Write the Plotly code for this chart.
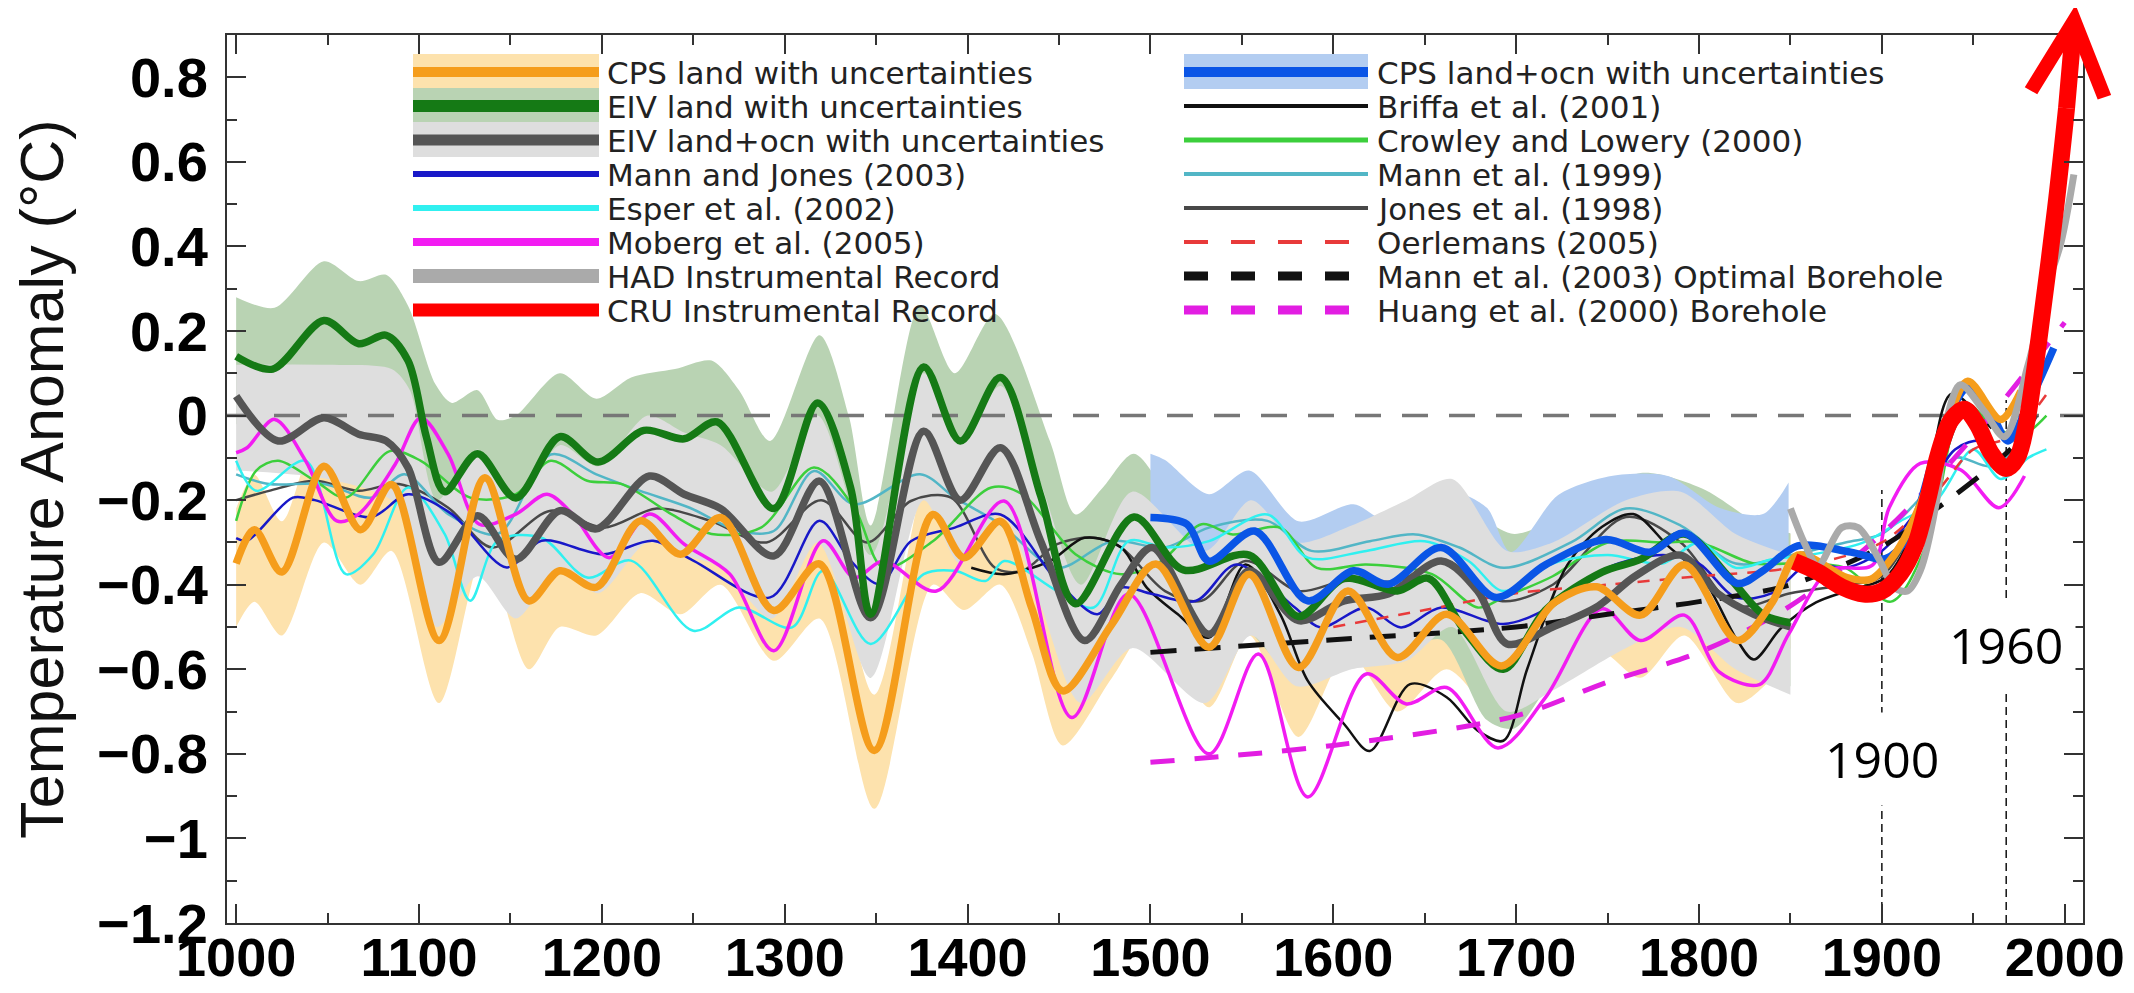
import plotly.graph_objects as go

# ---------------- canvas / frame ----------------
W, H = 2134, 993
M_L, M_R, M_T, M_B = 219, 59, 27, 78

x_range = [995, 2010]
y_range = [-1.2, 0.9]
x_tick_vals = [1000, 1100, 1200, 1300, 1400, 1500, 1600, 1700, 1800, 1900, 2000]
x_tick_text = ["1000", "1100", "1200", "1300", "1400", "1500", "1600", "1700", "1800", "1900", "2000"]
y_tick_vals = [0.8, 0.6, 0.4, 0.2, 0, -0.2, -0.4, -0.6, -0.8, -1.0, -1.2]
y_tick_text = ["0.8", "0.6", "0.4", "0.2", "0", "\u22120.2", "\u22120.4", "\u22120.6", "\u22120.8", "\u22121", "\u22121.2"]
zero_level = 0

# ---------------- uncertainty bands ----------------
eiv_land_band_yr = [1000, 1021, 1048, 1067, 1082, 1094, 1109, 1118, 1132, 1143, 1153, 1177, 1197, 1216, 1240, 1260,
                    1275, 1292, 1319, 1335, 1347, 1374, 1393, 1415, 1445, 1459, 1474, 1491, 1520, 1545, 1581, 1611,
                    1635, 1659, 1684, 1699, 1728, 1768, 1802, 1835, 1850]
eiv_land_band_up = [0.28, 0.255, 0.365, 0.318, 0.333, 0.26, 0.074, 0.03, 0.06, -0.01, 0.0, 0.1, 0.04, 0.09, 0.11, 0.13,
                    0.06, -0.06, 0.19, 0.0, -0.26, 0.26, 0.1, 0.24, -0.06, -0.234, -0.17, -0.09, -0.234, -0.186, -0.28,
                    -0.257, -0.27, -0.17, -0.25, -0.28, -0.233, -0.136, -0.173, -0.263, -0.278]
eiv_land_band_lo = [-0.02, -0.05, 0.08, 0.02, 0.04, -0.03, -0.27, -0.33, -0.24, -0.3, -0.34, -0.2, -0.26, -0.2, -0.2,
                    -0.17, -0.23, -0.36, -0.12, -0.3, -0.62, -0.04, -0.2, -0.06, -0.4, -0.6, -0.5, -0.4, -0.52, -0.48,
                    -0.62, -0.54, -0.56, -0.53, -0.72, -0.74, -0.58, -0.49, -0.47, -0.62, -0.64]

eiv_ocn_band_yr = [1000, 1050, 1085, 1095, 1110, 1132, 1153, 1177, 1198, 1225, 1245, 1265, 1293, 1318, 1347, 1376,
                   1396, 1418, 1440, 1462, 1490, 1530, 1555, 1580, 1610, 1640, 1665, 1695, 1720, 1760, 1790, 1820, 1850]
eiv_ocn_band_up = [0.12, 0.12, 0.11, 0.06, -0.2, -0.08, -0.2, -0.07, -0.12, 0.0, -0.04, -0.07, -0.18, 0.0, -0.33, 0.1,
                   -0.06, 0.07, -0.16, -0.4, -0.18, -0.32, -0.2, -0.3, -0.26, -0.2, -0.15, -0.32, -0.3, -0.2, -0.18,
                   -0.28, -0.33]
eiv_ocn_band_lo = [-0.13, -0.15, -0.2, -0.28, -0.5, -0.38, -0.48, -0.36, -0.42, -0.3, -0.33, -0.36, -0.48, -0.3, -0.62,
                   -0.2, -0.35, -0.23, -0.45, -0.68, -0.55, -0.68, -0.52, -0.64, -0.6, -0.58, -0.5, -0.7, -0.65, -0.55,
                   -0.5, -0.6, -0.66]

cps_land_band_yr = [1000, 1010, 1025, 1048, 1068, 1085, 1111, 1136, 1160, 1177, 1197, 1221, 1243, 1265, 1294, 1319,
                    1349, 1381, 1398, 1418, 1435, 1452, 1479, 1503, 1532, 1554, 1581, 1608, 1635, 1662, 1693, 1721,
                    1744, 1768, 1792, 1821, 1840, 1850]
cps_land_band_up = [-0.22, -0.14, -0.25, 0.0, -0.15, -0.05, -0.4, -0.03, -0.31, -0.24, -0.28, -0.13, -0.2, -0.12, -0.34,
                    -0.23, -0.66, -0.1, -0.22, -0.13, -0.33, -0.52, -0.37, -0.23, -0.42, -0.25, -0.46, -0.3, -0.45,
                    -0.35, -0.46, -0.32, -0.28, -0.35, -0.23, -0.41, -0.33, -0.28]
cps_land_band_lo = [-0.5, -0.44, -0.52, -0.3, -0.4, -0.32, -0.68, -0.32, -0.6, -0.5, -0.52, -0.42, -0.47, -0.4, -0.58,
                    -0.48, -0.93, -0.4, -0.46, -0.4, -0.56, -0.78, -0.62, -0.48, -0.69, -0.52, -0.76, -0.56, -0.7, -0.6,
                    -0.72, -0.6, -0.55, -0.62, -0.52, -0.68, -0.62, -0.55]

cps_ocn_band_yr = [1500, 1508, 1532, 1554, 1581, 1611, 1630, 1664, 1684, 1697, 1723, 1752, 1783, 1811, 1835, 1849]
cps_ocn_band_up = [-0.09, -0.105, -0.186, -0.13, -0.25, -0.21, -0.25, -0.18, -0.218, -0.323, -0.188, -0.143, -0.143,
                   -0.218, -0.233, -0.158]
cps_ocn_band_lo = [-0.4, -0.42, -0.5, -0.43, -0.6, -0.52, -0.55, -0.46, -0.58, -0.6, -0.5, -0.45, -0.46, -0.54, -0.52,
                   -0.46]

# ---------------- reconstructions ----------------
cps_land_yr = [1000, 1010, 1025, 1048, 1068, 1085, 1111, 1136, 1160, 1177, 1197, 1221, 1243, 1265, 1294, 1319, 1349,
               1381, 1398, 1418, 1435, 1452, 1479, 1503, 1532, 1554, 1581, 1608, 1635, 1662, 1692, 1721, 1744, 1768,
               1792, 1821, 1840, 1854, 1881, 1894, 1907, 1921, 1936, 1947, 1965, 1976]
cps_land_val = [-0.35, -0.27, -0.37, -0.12, -0.27, -0.163, -0.532, -0.147, -0.438, -0.367, -0.406, -0.249, -0.328,
                -0.241, -0.461, -0.351, -0.792, -0.234, -0.336, -0.25, -0.454, -0.651, -0.493, -0.351, -0.548, -0.375,
                -0.596, -0.415, -0.572, -0.47, -0.592, -0.442, -0.405, -0.472, -0.353, -0.532, -0.442, -0.33, -0.383,
                -0.387, -0.328, -0.21, -0.013, 0.081, -0.009, 0.058]

eiv_land_yr = [1000, 1020, 1048, 1067, 1082, 1094, 1104, 1114, 1132, 1153, 1177, 1198, 1223, 1245, 1263, 1294, 1318,
               1336, 1347, 1376, 1396, 1418, 1440, 1459, 1491, 1518, 1554, 1581, 1606, 1635, 1652, 1672, 1693, 1716,
               1747, 1768, 1792, 1816, 1835, 1850]
eiv_land_val = [0.14, 0.11, 0.225, 0.17, 0.19, 0.13, -0.05, -0.18, -0.09, -0.195, -0.05, -0.11, -0.035, -0.055,
                -0.015, -0.22, 0.03, -0.17, -0.47, 0.115, -0.06, 0.09, -0.19, -0.445, -0.24, -0.365, -0.33, -0.475,
                -0.385, -0.415, -0.385, -0.51, -0.6, -0.46, -0.37, -0.34, -0.28, -0.38, -0.47, -0.49]

eiv_ocn_yr = [1000, 1023, 1048, 1067, 1082, 1094, 1111, 1132, 1153, 1177, 1197, 1226, 1245, 1265, 1294, 1319, 1347,
              1376, 1396, 1418, 1440, 1464, 1484, 1501, 1532, 1554, 1581, 1606, 1630, 1659, 1679, 1695, 1720, 1745,
              1765, 1790, 1810, 1830, 1850]
eiv_ocn_val = [0.046, -0.06, -0.005, -0.044, -0.06, -0.123, -0.347, -0.237, -0.34, -0.225, -0.268, -0.143, -0.186,
               -0.22, -0.332, -0.155, -0.478, -0.037, -0.2, -0.076, -0.297, -0.532, -0.399, -0.312, -0.517, -0.367,
               -0.485, -0.438, -0.422, -0.344, -0.415, -0.54, -0.5, -0.45, -0.38, -0.33, -0.42, -0.47, -0.5]

cps_ocn_yr = [1500, 1520, 1532, 1557, 1586, 1611, 1630, 1659, 1689, 1716, 1749, 1773, 1792, 1821, 1835, 1854, 1883,
              1902, 1914, 1932, 1947, 1960, 1969, 1980, 1994]
cps_ocn_val = [-0.241, -0.257, -0.344, -0.273, -0.438, -0.367, -0.399, -0.312, -0.43, -0.353, -0.293, -0.323, -0.278,
               -0.397, -0.367, -0.308, -0.323, -0.338, -0.289, -0.052, 0.066, 0.003, -0.06, 0.026, 0.16]

mann_jones_yr = [1000, 1006, 1031, 1043, 1074, 1094, 1118, 1148, 1167, 1201, 1228, 1250, 1292, 1319, 1336, 1352, 1369,
                 1393, 1418, 1449, 1471, 1484, 1501, 1525, 1547, 1579, 1593, 1618, 1637, 1659, 1693, 1720, 1750, 1780,
                 1800, 1820, 1840, 1860, 1880, 1900, 1920, 1940, 1955, 1970, 1980]
mann_jones_val = [-0.29, -0.296, -0.194, -0.2, -0.24, -0.186, -0.233, -0.359, -0.296, -0.328, -0.296, -0.343, -0.43,
                  -0.249, -0.343, -0.399, -0.297, -0.265, -0.234, -0.391, -0.47, -0.407, -0.422, -0.438, -0.352,
                  -0.454, -0.501, -0.454, -0.501, -0.454, -0.493, -0.45, -0.36, -0.33, -0.35, -0.43, -0.42, -0.35,
                  -0.36, -0.32, -0.22, -0.08, -0.06, -0.12, -0.05]

esper_yr = [1000, 1011, 1038, 1060, 1075, 1094, 1114, 1128, 1143, 1167, 1192, 1216, 1250, 1275, 1304, 1321, 1347, 1376,
            1393, 1410, 1420, 1449, 1469, 1488, 1508, 1532, 1564, 1586, 1618, 1650, 1674, 1693, 1720, 1750, 1780, 1800,
            1820, 1840, 1860, 1890, 1910, 1930, 1950, 1965, 1980, 1990]
esper_val = [-0.107, -0.178, -0.107, -0.375, -0.328, -0.17, -0.28, -0.438, -0.296, -0.289, -0.383, -0.343, -0.509,
             -0.454, -0.501, -0.367, -0.54, -0.375, -0.367, -0.391, -0.344, -0.415, -0.454, -0.297, -0.312, -0.297,
             -0.234, -0.336, -0.32, -0.297, -0.344, -0.415, -0.35, -0.33, -0.35, -0.3, -0.36, -0.34, -0.33, -0.3,
             -0.25, -0.2, -0.08, -0.15, -0.1, -0.08]

moberg_yr = [1000, 1006, 1021, 1038, 1055, 1067, 1087, 1101, 1116, 1133, 1153, 1170, 1184, 1204, 1226, 1245, 1270,
             1294, 1321, 1338, 1354, 1383, 1420, 1457, 1488, 1532, 1559, 1586, 1618, 1640, 1662, 1690, 1716, 1747,
             1768, 1792, 1811, 1833, 1849, 1871, 1895, 1904, 1921, 1943, 1964, 1978]
moberg_val = [-0.088, -0.076, -0.009, -0.107, -0.249, -0.233, -0.115, -0.005, -0.092, -0.257, -0.233, -0.186, -0.233,
              -0.336, -0.233, -0.304, -0.375, -0.556, -0.296, -0.383, -0.344, -0.415, -0.202, -0.714, -0.422, -0.8,
              -0.564, -0.902, -0.611, -0.682, -0.643, -0.786, -0.667, -0.457, -0.532, -0.472, -0.606, -0.636, -0.517,
              -0.367, -0.353, -0.218, -0.113, -0.128, -0.218, -0.143]

briffa_yr = [1402, 1420, 1445, 1464, 1484, 1498, 1515, 1532, 1552, 1571, 1586, 1606, 1620, 1642, 1662, 1679, 1693,
             1706, 1728, 1747, 1764, 1783, 1802, 1821, 1830, 1845, 1864, 1883, 1902, 1921, 1938, 1955, 1960]
briffa_val = [-0.36, -0.375, -0.344, -0.289, -0.312, -0.407, -0.47, -0.525, -0.352, -0.47, -0.627, -0.73, -0.793,
              -0.635, -0.666, -0.745, -0.769, -0.6, -0.353, -0.263, -0.233, -0.308, -0.383, -0.532, -0.577, -0.502,
              -0.442, -0.412, -0.383, -0.233, 0.051, -0.009, -0.03]

crowley_yr = [1000, 1011, 1023, 1043, 1060, 1084, 1101, 1128, 1153, 1172, 1192, 1211, 1238, 1260, 1287, 1316, 1338,
              1354, 1381, 1413, 1430, 1459, 1484, 1506, 1528, 1545, 1571, 1591, 1618, 1654, 1679, 1693, 1720, 1750,
              1780, 1800, 1830, 1850, 1880, 1905, 1925, 1945, 1960, 1975, 1990]
crowley_val = [-0.249, -0.13, -0.107, -0.154, -0.194, -0.084, -0.107, -0.194, -0.186, -0.107, -0.154, -0.162, -0.233,
               -0.28, -0.265, -0.123, -0.218, -0.36, -0.297, -0.17, -0.186, -0.328, -0.375, -0.344, -0.257, -0.281,
               -0.265, -0.36, -0.352, -0.375, -0.454, -0.43, -0.38, -0.3, -0.3, -0.3, -0.35, -0.35, -0.36, -0.44,
               -0.3, 0.03, -0.02, -0.05, 0.0]

mann99_yr = [1000, 1018, 1048, 1074, 1092, 1116, 1143, 1172, 1197, 1221, 1248, 1275, 1294, 1316, 1338, 1374, 1393,
             1418, 1449, 1479, 1508, 1532, 1564, 1588, 1620, 1645, 1669, 1693, 1730, 1760, 1790, 1820, 1850, 1880,
             1900, 1920, 1940, 1960, 1980]
mann99_val = [-0.139, -0.162, -0.162, -0.194, -0.139, -0.233, -0.28, -0.092, -0.139, -0.178, -0.218, -0.273, -0.273,
              -0.131, -0.21, -0.139, -0.194, -0.257, -0.36, -0.297, -0.312, -0.265, -0.249, -0.32, -0.297, -0.281,
              -0.312, -0.36, -0.3, -0.22, -0.26, -0.35, -0.33, -0.3, -0.28, -0.2, -0.1, -0.12, -0.05]

jones98_yr = [1000, 1018, 1043, 1067, 1089, 1116, 1140, 1172, 1201, 1230, 1260, 1290, 1320, 1345, 1369, 1391, 1415,
              1430, 1449, 1469, 1484, 1508, 1528, 1552, 1581, 1606, 1635, 1662, 1691, 1720, 1760, 1790, 1820, 1850,
              1880, 1900, 1930, 1945, 1965, 1985]
jones98_val = [-0.2, -0.178, -0.154, -0.178, -0.162, -0.218, -0.312, -0.225, -0.265, -0.22, -0.25, -0.3, -0.2, -0.3,
               -0.202, -0.194, -0.36, -0.367, -0.304, -0.289, -0.312, -0.415, -0.438, -0.344, -0.415, -0.391, -0.391,
               -0.344, -0.438, -0.4, -0.24, -0.3, -0.45, -0.42, -0.4, -0.38, -0.15, 0.0, -0.1, 0.0]

oerlemans_yr = [1600, 1650, 1700, 1750, 1800, 1850, 1900, 1930, 1950, 1970, 1990]
oerlemans_val = [-0.5, -0.46, -0.42, -0.4, -0.38, -0.36, -0.3, -0.18, -0.08, -0.05, 0.05]

mann03_bh_yr = [1500, 1600, 1700, 1750, 1800, 1850, 1900, 1930, 1960, 1980]
mann03_bh_val = [-0.56, -0.53, -0.5, -0.47, -0.44, -0.4, -0.31, -0.22, -0.12, -0.04]

huang_bh_yr = [1500, 1600, 1700, 1750, 1800, 1850, 1900, 1950, 2000]
huang_bh_val = [-0.82, -0.78, -0.71, -0.63, -0.56, -0.45, -0.28, -0.05, 0.22]

had_yr = [1850, 1858, 1865, 1878, 1887, 1898, 1907, 1914, 1921, 1930, 1936, 1943, 1956, 1967, 1980, 1990, 1998, 2005]
had_val = [-0.22, -0.305, -0.355, -0.265, -0.265, -0.336, -0.407, -0.415, -0.367, -0.2, 0.0, 0.073, 0.01, -0.05, 0.12,
           0.3, 0.41, 0.57]

cru_yr = [1852, 1865, 1878, 1890, 1900, 1910, 1918, 1925, 1931, 1938, 1945, 1952, 1960, 1968, 1974, 1979, 1983, 1986,
          1995, 2001]
cru_val = [-0.345, -0.37, -0.405, -0.422, -0.415, -0.375, -0.31, -0.2, -0.09, -0.01, 0.015, -0.02, -0.09, -0.125, -0.1,
           -0.02, 0.09, 0.184, 0.49, 0.727]
arrow_tip_yr, arrow_tip_val = 2006, 0.975

marker_years = [1900, 1968]
marker_tops = [-0.176, 0.037]
marker_labels = ["1900", "1960"]
marker_label_vals = [-0.812, -0.543]

# ---------------- colours ----------------
C_ORANGE, C_ORANGE_BAND = "#f59d1c", "#fde2ad"
C_GREEN, C_GREEN_BAND = "#157a15", "#b9d3b3"
C_DGRAY, C_GRAY_BAND = "#555555", "#dedede"
C_BLUE, C_BLUE_BAND = "#0a55e6", "#b3cdf1"
C_MJ, C_ESPER, C_MOBERG = "#1818c8", "#30f0f0", "#f21cf2"
C_HAD, C_CRU = "#aaaaaa", "#ff0000"
C_BRIFFA, C_CROWLEY, C_MANN99, C_JONES98 = "#111111", "#3ccf3c", "#52b6c6", "#484848"
C_OERL, C_MANN03, C_HUANG = "#e83a3a", "#111111", "#e21ee2"

fig = go.Figure()


def add_band(xs, lo, up, color):
    fig.add_trace(go.Scatter(x=xs, y=lo, mode="lines", line=dict(width=0, shape="spline", smoothing=0.8),
                             hoverinfo="skip", showlegend=False))
    fig.add_trace(go.Scatter(x=xs, y=up, mode="lines", line=dict(width=0, shape="spline", smoothing=0.8),
                             fill="tonexty", fillcolor=color, hoverinfo="skip", showlegend=False))


def add_line(xs, ys, color, width, name, dash=None, smoothing=0.9):
    fig.add_trace(go.Scatter(x=xs, y=ys, mode="lines", name=name,
                             line=dict(color=color, width=width, shape="spline", smoothing=smoothing, dash=dash),
                             showlegend=False))


add_band(cps_land_band_yr, cps_land_band_lo, cps_land_band_up, C_ORANGE_BAND)
add_band(eiv_land_band_yr, eiv_land_band_lo, eiv_land_band_up, C_GREEN_BAND)
add_band(cps_ocn_band_yr, cps_ocn_band_lo, cps_ocn_band_up, C_BLUE_BAND)
add_band(eiv_ocn_band_yr, eiv_ocn_band_lo, eiv_ocn_band_up, C_GRAY_BAND)

# zero reference line (above the bands, below the curves)
fig.add_trace(go.Scatter(x=x_range, y=[zero_level, zero_level], mode="lines",
                         line=dict(color="#777777", width=3.5, dash="26px,21px"), hoverinfo="skip", showlegend=False))

add_line(jones98_yr, jones98_val, C_JONES98, 2.5, "Jones et al. (1998)")
add_line(mann99_yr, mann99_val, C_MANN99, 2.5, "Mann et al. (1999)")
add_line(crowley_yr, crowley_val, C_CROWLEY, 2.5, "Crowley and Lowery (2000)")
add_line(briffa_yr, briffa_val, C_BRIFFA, 2.5, "Briffa et al. (2001)")
add_line(esper_yr, esper_val, C_ESPER, 2.5, "Esper et al. (2002)")
add_line(mann_jones_yr, mann_jones_val, C_MJ, 2.5, "Mann and Jones (2003)")
add_line(moberg_yr, moberg_val, C_MOBERG, 3.5, "Moberg et al. (2005)")
add_line(oerlemans_yr, oerlemans_val, C_OERL, 2.5, "Oerlemans (2005)", dash="12px,10px")
add_line(mann03_bh_yr, mann03_bh_val, C_MANN03, 5, "Mann et al. (2003) Optimal Borehole", dash="26px,18px")
add_line(huang_bh_yr, huang_bh_val, C_HUANG, 5, "Huang et al. (2000) Borehole", dash="24px,20px")
add_line(eiv_ocn_yr, eiv_ocn_val, C_DGRAY, 7.5, "EIV land+ocn with uncertainties")
add_line(eiv_land_yr, eiv_land_val, C_GREEN, 7.5, "EIV land with uncertainties")
add_line(cps_ocn_yr, cps_ocn_val, C_BLUE, 7.5, "CPS land+ocn with uncertainties")
add_line(cps_land_yr, cps_land_val, C_ORANGE, 7.5, "CPS land with uncertainties")
add_line(had_yr, had_val, C_HAD, 7, "HAD Instrumental Record")
add_line(cru_yr, cru_val, C_CRU, 17, "CRU Instrumental Record", smoothing=1.0)

# ---------------- shapes & annotations ----------------
PW = W - M_L - M_R
PH = H - M_T - M_B


def px(xp):
    return (xp - M_L) / PW


def py(yp):
    return (H - M_B - yp) / PH


shapes = []
annotations = []

for yr, top in zip(marker_years, marker_tops):
    shapes.append(dict(type="line", xref="x", yref="y", x0=yr, x1=yr, y0=y_range[0], y1=top, layer="below",
                       line=dict(color="#111111", width=1.5, dash="8px,5px")))
for yr, lab, v in zip(marker_years, marker_labels, marker_label_vals):
    annotations.append(dict(x=yr, y=v, xref="x", yref="y", text=lab, showarrow=False, bgcolor="white",
                            borderpad=12, font=dict(family="Open Sans, Noto Sans, sans-serif", size=50,
                                                    color="black")))

# red arrow head continuing the CRU overlay beyond the frame
annotations.append(dict(x=cru_yr[-1], y=cru_val[-1], xref="x", yref="y", ax=arrow_tip_yr, ay=arrow_tip_val,
                        axref="x", ayref="y", text="", showarrow=True, arrowside="start", startarrowhead=5,
                        startarrowsize=0.85, arrowwidth=17, arrowcolor=C_CRU, font=dict(size=1)))

# legend (two columns, drawn in the style of the original figure)
legend_col1 = [
    ("CPS land with uncertainties", C_ORANGE, 10, None, C_ORANGE_BAND),
    ("EIV land with uncertainties", C_GREEN, 12, None, C_GREEN_BAND),
    ("EIV land+ocn with uncertainties", C_DGRAY, 11, None, C_GRAY_BAND),
    ("Mann and Jones (2003)", C_MJ, 6, None, None),
    ("Esper et al. (2002)", C_ESPER, 6, None, None),
    ("Moberg et al. (2005)", C_MOBERG, 8, None, None),
    ("HAD Instrumental Record", C_HAD, 14, None, None),
    ("CRU Instrumental Record", C_CRU, 13, None, None),
]
legend_col2 = [
    ("CPS land+ocn with uncertainties", C_BLUE, 10, None, C_BLUE_BAND),
    ("Briffa et al. (2001)", C_BRIFFA, 4, None, None),
    ("Crowley and Lowery (2000)", C_CROWLEY, 5, None, None),
    ("Mann et al. (1999)", C_MANN99, 4, None, None),
    ("Jones et al. (1998)", C_JONES98, 4, None, None),
    ("Oerlemans (2005)", C_OERL, 4, "24px,23px", None),
    ("Mann et al. (2003) Optimal Borehole", C_MANN03, 9, "24px,23px", None),
    ("Huang et al. (2000) Borehole", C_HUANG, 9, "24px,23px", None),
]
ROW0, ROW_STEP = 64, 34.0
for items, sx0, sx1, tx in [(legend_col1, 405, 591, 597), (legend_col2, 1176, 1360, 1367)]:
    for i, (label, col, lw, dash, band) in enumerate(items):
        cy = ROW0 + ROW_STEP * i
        if band:
            shapes.append(dict(type="rect", xref="paper", yref="paper", x0=px(sx0), x1=px(sx1),
                               y0=py(cy + 17), y1=py(cy - 18), fillcolor=band, line=dict(width=0), layer="above"))
        shapes.append(dict(type="line", xref="paper", yref="paper", x0=px(sx0), x1=px(sx1), y0=py(cy), y1=py(cy),
                           line=dict(color=col, width=lw, dash=dash), layer="above"))
        annotations.append(dict(x=px(tx), y=py(cy + 1), xref="paper", yref="paper", text=label, showarrow=False,
                                xanchor="left", yanchor="middle",
                                font=dict(family="DejaVu Sans, sans-serif", size=31, color="#222222")))

axis_common = dict(showline=True, linecolor="#333333", linewidth=2, mirror="ticks", ticks="inside", ticklen=19,
                   tickwidth=2, tickcolor="#333333", showgrid=False, zeroline=False, automargin=False)

fig.update_layout(
    width=W, height=H,
    margin=dict(l=M_L, r=M_R, t=M_T, b=M_B),
    paper_bgcolor="white", plot_bgcolor="white",
    showlegend=False,
    xaxis=dict(range=x_range, tickmode="array", tickvals=x_tick_vals, ticktext=x_tick_text,
               ticklabelstandoff=-14,
               tickfont=dict(family="Liberation Sans, Arial, sans-serif", size=54, color="black", weight="bold"),
               minor=dict(tickmode="linear", tick0=1000, dtick=50, ticks="inside", ticklen=10, tickwidth=2,
                          tickcolor="#333333", showgrid=False),
               **axis_common),
    yaxis=dict(range=y_range, tickmode="array", tickvals=y_tick_vals, ticktext=y_tick_text,
               ticklabelstandoff=6,
               tickfont=dict(family="Liberation Sans, Arial, sans-serif", size=56, color="black", weight="bold"),
               minor=dict(tickmode="linear", tick0=0, dtick=0.1, ticks="inside", ticklen=10, tickwidth=2,
                          tickcolor="#333333", showgrid=False),
               title=dict(text="Temperature Anomaly (\u00b0C)", standoff=16,
                          font=dict(family="Liberation Sans, Arial, sans-serif", size=61, color="#111111")),
               **axis_common),
    shapes=shapes,
    annotations=annotations,
)

fig.write_html("out.html")
